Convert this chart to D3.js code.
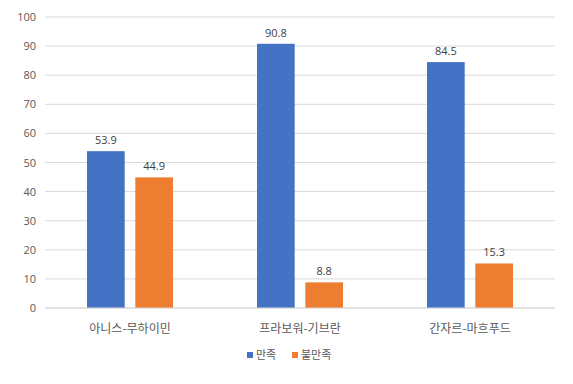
<!DOCTYPE html>
<html><head><meta charset="utf-8">
<script src="https://cdn.jsdelivr.net/npm/d3@7"></script>
<style>body{margin:0;background:#fff;}svg{display:block;font-family:"Noto Sans CJK KR","Noto Sans",sans-serif;}</style>
</head><body>
<svg id="c" width="573" height="384"></svg>
<script>
const categories = ["아니스-무하이민", "프라보워-기브란", "간자르-마흐푸드"];
const seriesNames = ["만족", "불만족"];
const satisfied = [53.9, 90.8, 84.5];
const dissatisfied = [44.9, 8.8, 15.3];
const yTicks = [0,10,20,30,40,50,60,70,80,90,100];
const colors = ["#4472C4", "#ED7D31"];

const svg = d3.select("#c");
const m = {l:45, r:18, t:17, b:76};
const W = 573, H = 384;
const x = d3.scaleBand().domain(categories).range([m.l, W - m.r]).paddingInner(0).paddingOuter(0);
const x1 = d3.scaleBand().domain(seriesNames).range([42, 128]).paddingInner(0.22).paddingOuter(0);
const y = d3.scaleLinear().domain([0,100]).range([H - m.b, m.t]);

// gridlines
svg.append("g").selectAll("line").data(yTicks).join("line")
  .attr("x1", m.l).attr("x2", W - m.r)
  .attr("y1", d => y(d)).attr("y2", d => y(d))
  .attr("stroke", "#d9d9d9").attr("stroke-width", 1);

// y axis labels
const yAxis = d3.axisLeft(y).tickValues(yTicks).tickSize(0).tickPadding(9);
const ga = svg.append("g").attr("transform", `translate(${m.l},0)`).call(yAxis);
ga.select(".domain").remove();
ga.selectAll("text").attr("fill", "#595959").style("font-size", "11px").style("font-family", "'Open Sans',sans-serif");

const data = categories.map((c,i) => ({c, vals: [satisfied[i], dissatisfied[i]]}));
const groups = svg.append("g").selectAll("g").data(data).join("g")
  .attr("transform", d => `translate(${x(d.c)},0)`);
groups.selectAll("rect").data(d => d.vals.map((v,j) => ({k: seriesNames[j], v, j}))).join("rect")
  .attr("x", d => x1(d.k)).attr("width", x1.bandwidth())
  .attr("y", d => y(d.v)).attr("height", d => y(0) - y(d.v))
  .attr("fill", d => colors[d.j]);
groups.selectAll("text.v").data(d => d.vals.map((v,j) => ({k: seriesNames[j], v, j}))).join("text")
  .attr("class","v")
  .attr("x", d => x1(d.k) + x1.bandwidth()/2).attr("y", d => y(d.v) - 7)
  .attr("text-anchor","middle").attr("fill","#404040")
  .style("font-size","11px").style("font-family","'Open Sans',sans-serif")
  .text(d => d.v.toFixed(1));

// x axis baseline
svg.append("line").attr("x1", m.l).attr("x2", W - m.r).attr("y1", y(0)).attr("y2", y(0)).attr("stroke","#d9d9d9");

// category labels
const xAxis = d3.axisBottom(x).tickSize(0).tickPadding(16);
const gx = svg.append("g").attr("transform", `translate(0,${y(0)})`).call(xAxis);
gx.select(".domain").remove();
gx.selectAll("text").attr("fill","#595959").style("font-size","12px").style("font-family","'Noto Sans CJK KR',sans-serif");

// legend
const lg = svg.append("g").attr("transform", "translate(247,355)");
const items = lg.selectAll("g").data(seriesNames).join("g").attr("transform", (d,i) => `translate(${i*45},0)`);
items.append("rect").attr("x",0).attr("y",-3).attr("width",6).attr("height",6).attr("fill",(d,i)=>colors[i]);
items.append("text").attr("x",9).attr("y",0).attr("dy","0.35em").attr("fill","#595959")
  .style("font-size","11px").text(d => d);
</script>
</body></html>
